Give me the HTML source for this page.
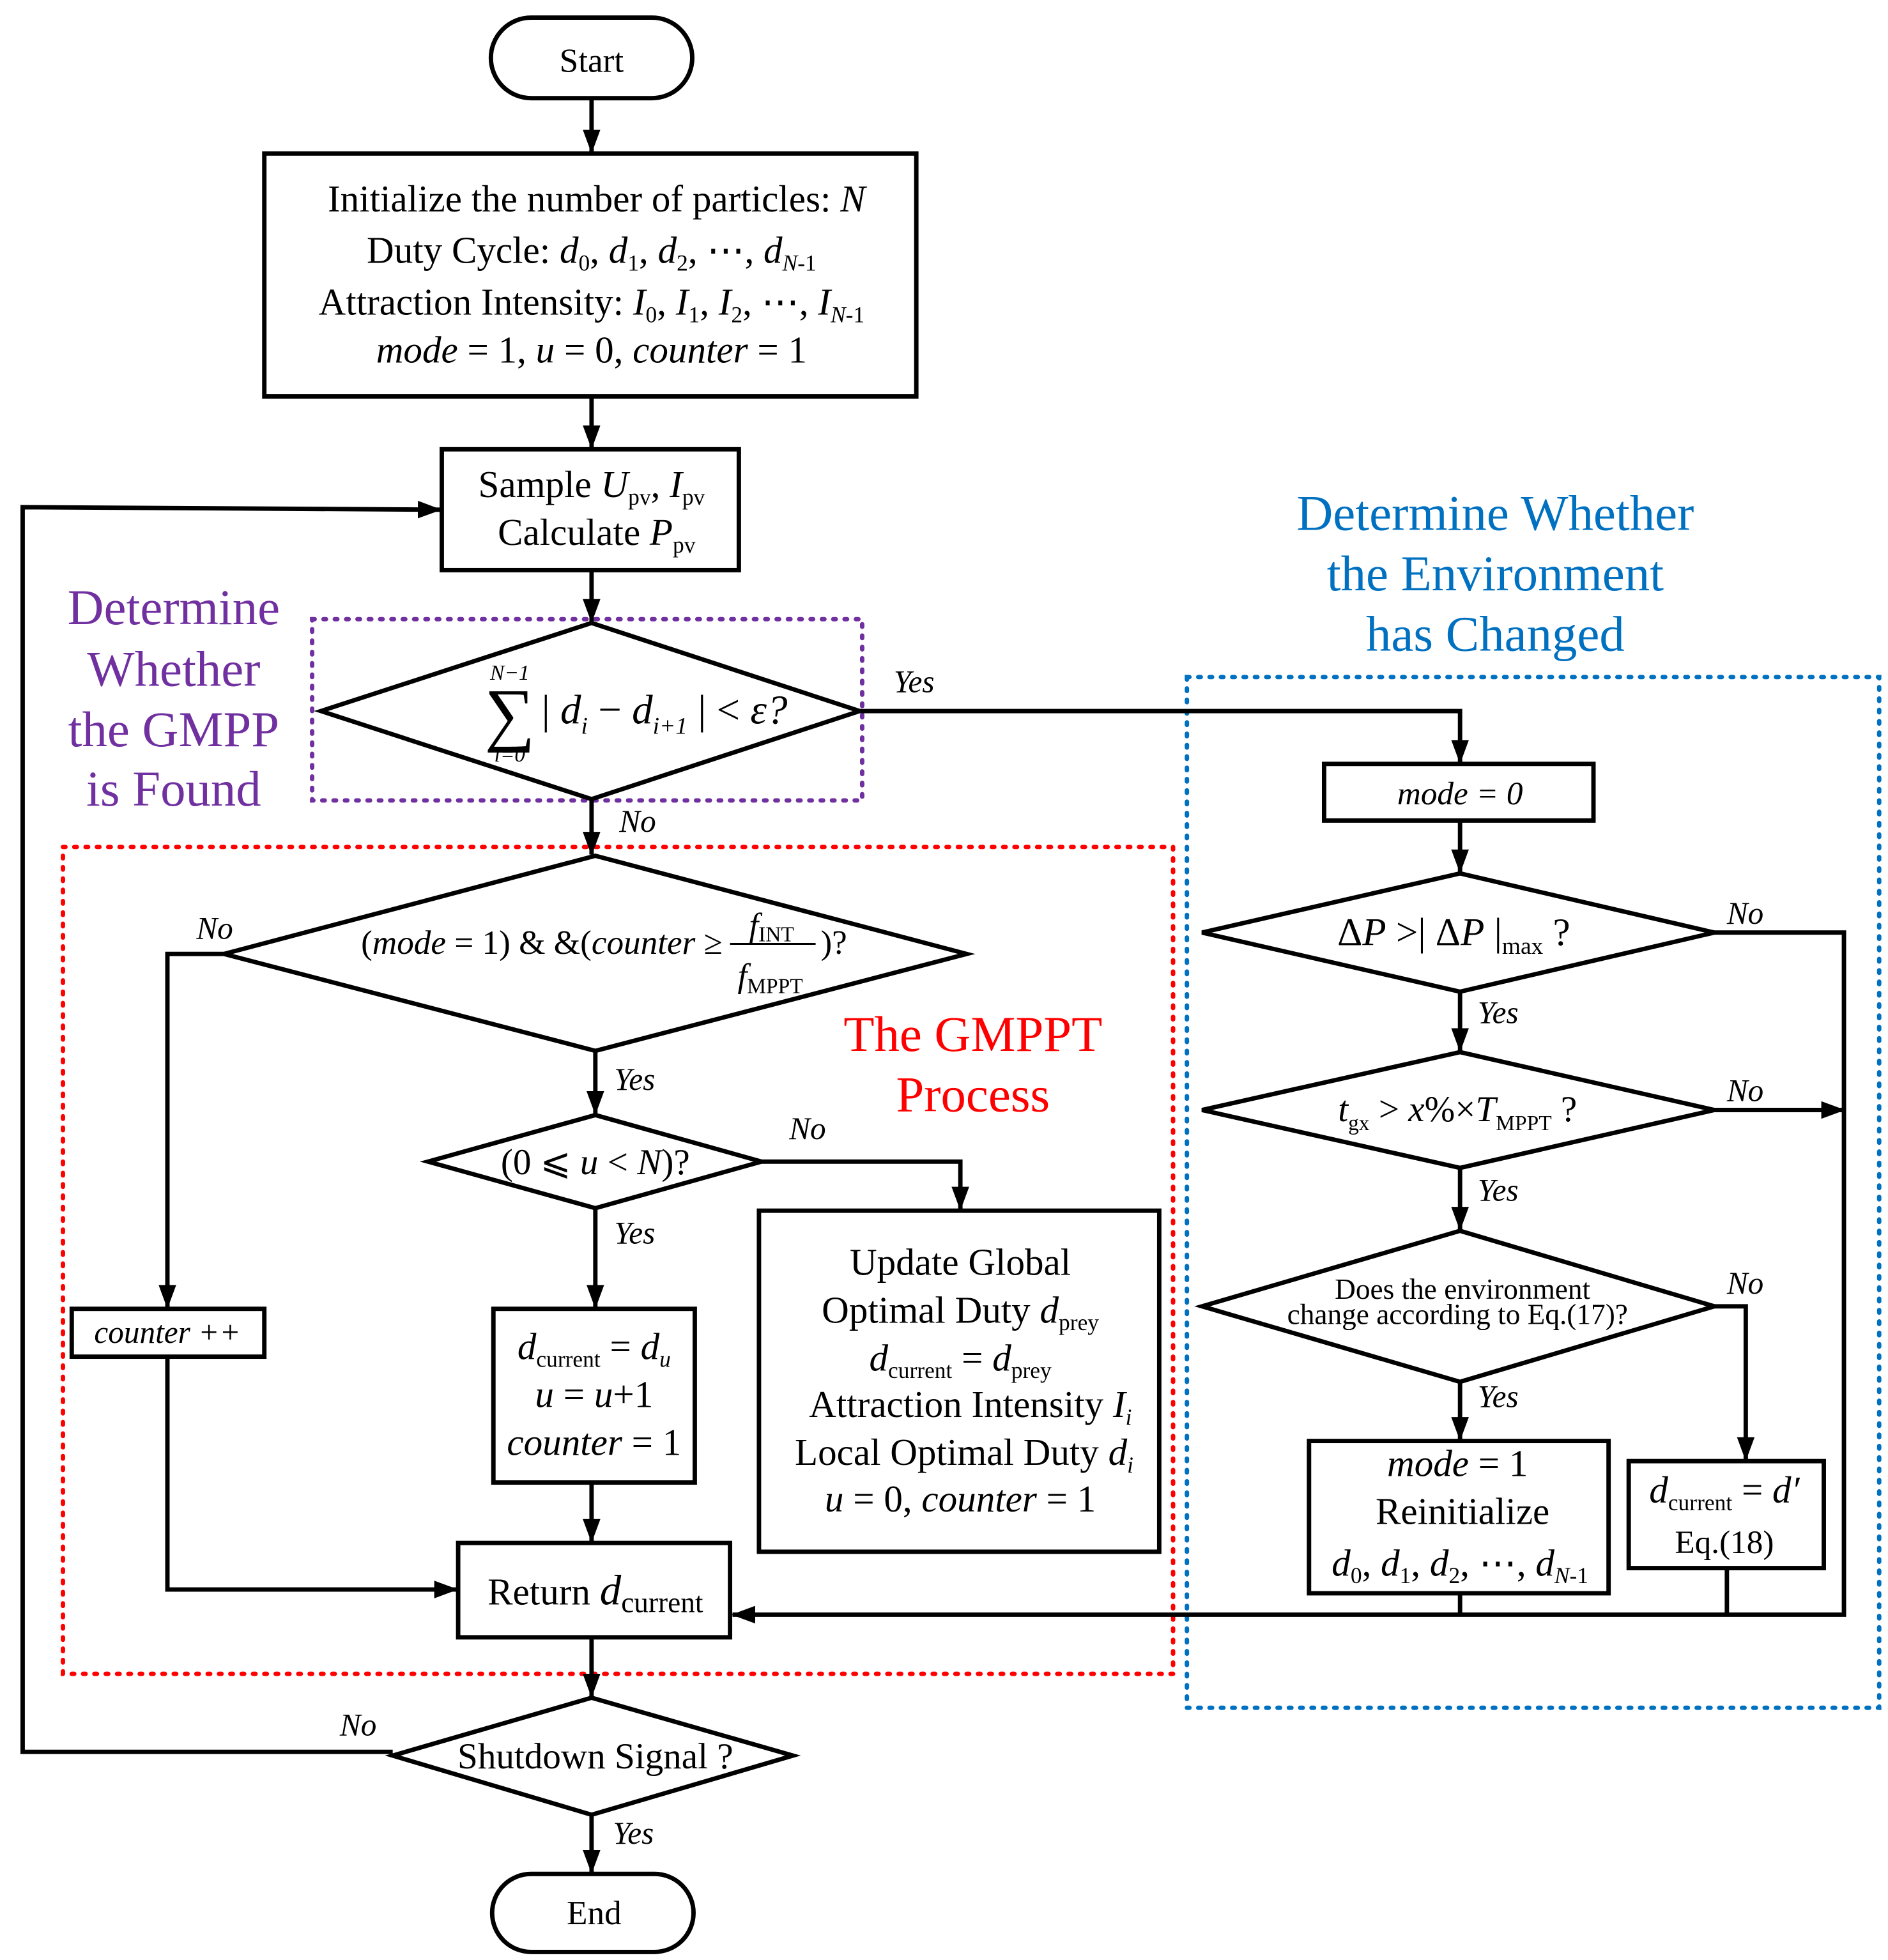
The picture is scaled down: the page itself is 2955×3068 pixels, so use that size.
<!DOCTYPE html>
<html><head><meta charset="utf-8"><style>
html,body{margin:0;padding:0;background:#fff;}
svg{display:block;}
text{font-family:"Liberation Serif",serif;fill:#000;}
.i{font-style:italic;}
</style></head><body>
<svg width="2955" height="3068" viewBox="0 0 1500 1557.4" preserveAspectRatio="none" xmlns="http://www.w3.org/2000/svg">
<defs>
<marker id="b" markerWidth="20" markerHeight="16" refX="18" refY="8" orient="auto" markerUnits="userSpaceOnUse">
<path d="M0,1 L19,8 L0,15 z" fill="#000"/>
</marker>
</defs>
<g fill="none" stroke="#000" stroke-width="3.5">
<rect x="248" y="492" width="437" height="144" stroke="#7030A0" stroke-dasharray="2 7" stroke-linecap="round"/>
<rect x="50" y="673" width="882" height="657" stroke="#FF0000" stroke-dasharray="2 7" stroke-linecap="round"/>
<rect x="943" y="538" width="550" height="819" stroke="#0070C0" stroke-dasharray="2 7" stroke-linecap="round"/>

<rect x="390" y="14" width="160" height="64" rx="32"/>
<rect x="210" y="122" width="518" height="193"/>
<rect x="351" y="357" width="236" height="96"/>
<polygon points="255,565 470,495 683,565 470,635"/>
<rect x="1052" y="607" width="214" height="45"/>
<polygon points="955,741 1160,694 1362,741 1160,788"/>
<polygon points="955,882 1160,836 1362,882 1160,928"/>
<polygon points="955,1038 1160,978 1362,1038 1160,1098"/>
<rect x="1040" y="1145" width="238" height="121"/>
<rect x="1294" y="1161" width="155" height="85"/>
<polygon points="178,758 473,680 768,758 473,835"/>
<rect x="57" y="1040" width="153" height="38"/>
<polygon points="340,923 473,886 605,923 473,960"/>
<rect x="392" y="1040" width="160" height="138"/>
<rect x="603" y="962" width="318" height="271"/>
<rect x="364" y="1226" width="216" height="75"/>
<polygon points="312,1395 470,1349 630,1395 470,1442"/>
<rect x="391" y="1489" width="160" height="62" rx="31"/>

<g marker-end="url(#b)">
<line x1="470" y1="78" x2="470" y2="121"/>
<line x1="470" y1="315" x2="470" y2="356"/>
<polyline points="312,1392 18,1392 18,403 350,405"/>
<line x1="470" y1="453" x2="470" y2="494"/>
<polyline points="683,565 1160,565 1160,606"/>
<line x1="1160" y1="652" x2="1160" y2="693"/>
<polyline points="1362,741 1465,741 1465,1283 582,1283"/>
<line x1="1160" y1="788" x2="1160" y2="835"/>
<line x1="1362" y1="882" x2="1465" y2="882"/>
<line x1="1160" y1="928" x2="1160" y2="977"/>
<polyline points="1362,1038 1387,1038 1387,1160"/>
<line x1="1160" y1="1098" x2="1160" y2="1144"/>
<line x1="470" y1="635" x2="470" y2="679"/>
<polyline points="178,758 133,758 133,1039"/>
<polyline points="133,1078 133,1263 363,1263"/>
<line x1="473" y1="835" x2="473" y2="885"/>
<polyline points="605,923 763,923 763,961"/>
<line x1="473" y1="960" x2="473" y2="1039"/>
<line x1="470" y1="1178" x2="470" y2="1225"/>
<line x1="470" y1="1301" x2="470" y2="1348"/>
<line x1="470" y1="1442" x2="470" y2="1488"/>
</g>
<line x1="1160" y1="1266" x2="1160" y2="1283"/>
<line x1="1372" y1="1246" x2="1372" y2="1283"/>
</g>

<g font-size="30" text-anchor="middle">
<text x="470" y="57" font-size="27">Start</text>
<text x="472" y="1529" font-size="27">End</text>
<text x="474" y="168">Initialize the number of particles: <tspan class="i">N</tspan></text>
<text x="470" y="209">Duty Cycle: <tspan class="i">d</tspan><tspan font-size="18" dy="6">0</tspan><tspan dy="-6">, </tspan><tspan class="i">d</tspan><tspan font-size="18" dy="6">1</tspan><tspan dy="-6">, </tspan><tspan class="i">d</tspan><tspan font-size="18" dy="6">2</tspan><tspan dy="-6">, ⋯, </tspan><tspan class="i">d</tspan><tspan font-size="18" dy="6"><tspan class="i">N</tspan>-1</tspan></text>
<text x="470" y="250">Attraction Intensity: <tspan class="i">I</tspan><tspan font-size="18" dy="6">0</tspan><tspan dy="-6">, </tspan><tspan class="i">I</tspan><tspan font-size="18" dy="6">1</tspan><tspan dy="-6">, </tspan><tspan class="i">I</tspan><tspan font-size="18" dy="6">2</tspan><tspan dy="-6">, ⋯, </tspan><tspan class="i">I</tspan><tspan font-size="18" dy="6"><tspan class="i">N</tspan>-1</tspan></text>
<text x="470" y="288"><tspan class="i">mode</tspan> = 1, <tspan class="i">u</tspan> = 0, <tspan class="i">counter</tspan> = 1</text>
<text x="470" y="395">Sample <tspan class="i">U</tspan><tspan font-size="18" dy="6">pv</tspan><tspan dy="-6">, </tspan><tspan class="i">I</tspan><tspan font-size="18" dy="6">pv</tspan></text>
<text x="474" y="433">Calculate <tspan class="i">P</tspan><tspan font-size="18" dy="6">pv</tspan></text>

<text x="405" y="586" font-size="56">∑</text>
<text x="405" y="540" font-size="17" class="i">N−1</text>
<text x="405" y="605" font-size="17" class="i">i=0</text>
<text x="528" y="575" font-size="33" class="i"><tspan font-style="normal">| </tspan>d<tspan font-size="19" dy="8">i</tspan><tspan dy="-8" font-style="normal"> − </tspan>d<tspan font-size="19" dy="8" >i+1</tspan><tspan dy="-8" font-style="normal"> | &lt; </tspan>ε?</text>

<text x="1160" y="639" font-size="26" class="i">mode = 0</text>
<text x="1155" y="751" font-size="31">Δ<tspan class="i">P</tspan> &gt;| Δ<tspan class="i">P</tspan> |<tspan font-size="19" dy="7">max</tspan><tspan dy="-7">  ?</tspan></text>
<text x="1158" y="891" font-size="29"><tspan class="i">t</tspan><tspan font-size="17" dy="7">gx</tspan><tspan dy="-7"> &gt; </tspan><tspan class="i">x</tspan>%×<tspan class="i">T</tspan><tspan font-size="17" dy="7">MPPT</tspan><tspan dy="-7"> ?</tspan></text>
<text x="1162" y="1032" font-size="23" font-family="Liberation Sans, sans-serif">Does the environment</text>
<text x="1158" y="1052" font-size="23" font-family="Liberation Sans, sans-serif">change according to Eq.(17)?</text>
<text x="1158" y="1173"><tspan class="i">mode</tspan> = 1</text>
<text x="1162" y="1211">Reinitialize</text>
<text x="1160" y="1252"><tspan class="i">d</tspan><tspan font-size="18" dy="6">0</tspan><tspan dy="-6">, </tspan><tspan class="i">d</tspan><tspan font-size="18" dy="6">1</tspan><tspan dy="-6">, </tspan><tspan class="i">d</tspan><tspan font-size="18" dy="6">2</tspan><tspan dy="-6">, ⋯, </tspan><tspan class="i">d</tspan><tspan font-size="18" dy="6"><tspan class="i">N</tspan>-1</tspan></text>
<text x="1370" y="1194"><tspan class="i">d</tspan><tspan font-size="18" dy="6">current</tspan><tspan dy="-6"> = </tspan><tspan class="i">d′</tspan></text>
<text x="1370" y="1234" font-size="26">Eq.(18)</text>

<text x="574" y="758" font-size="27" text-anchor="end">(<tspan class="i">mode</tspan> = 1) &amp; &amp;(<tspan class="i">counter</tspan> ≥</text>
<text x="652" y="758" font-size="27" text-anchor="start">)?</text>
<text x="613" y="744" font-size="27" class="i">f<tspan font-size="17" dy="4" font-style="normal">INT</tspan></text>
<line x1="580" y1="750" x2="648" y2="750" stroke="#000" stroke-width="1.5"/>
<text x="612" y="784" font-size="27" class="i">f<tspan font-size="17" dy="5" font-style="normal">MPPT</tspan></text>

<text x="133" y="1067" font-size="25" class="i">counter ++</text>
<text x="473" y="933" font-size="29">(0 ⩽ <tspan class="i">u</tspan> &lt; <tspan class="i">N</tspan>)?</text>
<text x="472" y="1080"><tspan class="i">d</tspan><tspan font-size="18" dy="6">current</tspan><tspan dy="-6"> = </tspan><tspan class="i">d</tspan><tspan font-size="18" dy="6" class="i">u</tspan></text>
<text x="472" y="1118"><tspan class="i">u</tspan> = <tspan class="i">u</tspan>+1</text>
<text x="472" y="1156"><tspan class="i">counter</tspan> = 1</text>
<text x="763" y="1013">Update Global</text>
<text x="763" y="1051">Optimal Duty <tspan class="i">d</tspan><tspan font-size="18" dy="6">prey</tspan></text>
<text x="763" y="1089"><tspan class="i">d</tspan><tspan font-size="18" dy="6">current</tspan><tspan dy="-6">  = </tspan><tspan class="i">d</tspan><tspan font-size="18" dy="6">prey</tspan></text>
<text x="771" y="1126">Attraction Intensity <tspan class="i">I<tspan font-size="18" dy="6">i</tspan></tspan></text>
<text x="766" y="1164">Local Optimal Duty <tspan class="i">d<tspan font-size="18" dy="6">i</tspan></tspan></text>
<text x="763" y="1201"><tspan class="i">u</tspan> = 0, <tspan class="i">counter</tspan> = 1</text>
<text x="473" y="1275" font-size="30">Return <tspan class="i" font-size="34">d</tspan><tspan font-size="23" dy="6">current</tspan></text>
<text x="473" y="1405" font-size="29">Shutdown Signal ?</text>
</g>

<g font-size="25" class="i">
<text x="710" y="550" class="i">Yes</text>
<text x="492" y="661" class="i">No</text>
<text x="1372" y="734" class="i">No</text>
<text x="1174" y="813" class="i">Yes</text>
<text x="1372" y="875" class="i">No</text>
<text x="1174" y="954" class="i">Yes</text>
<text x="1372" y="1028" class="i">No</text>
<text x="1174" y="1118" class="i">Yes</text>
<text x="156" y="746" class="i">No</text>
<text x="488" y="866" class="i">Yes</text>
<text x="627" y="905" class="i">No</text>
<text x="488" y="988" class="i">Yes</text>
<text x="270" y="1379" class="i">No</text>
<text x="487" y="1465" class="i">Yes</text>
</g>

<g font-size="40" text-anchor="middle">
<text x="138" y="496" style="fill:#7030A0">Determine</text>
<text x="138" y="545" style="fill:#7030A0">Whether</text>
<text x="138" y="593" style="fill:#7030A0">the GMPP</text>
<text x="138" y="640" style="fill:#7030A0">is Found</text>
<text x="1188" y="421" style="fill:#0070C0">Determine Whether</text>
<text x="1188" y="469" style="fill:#0070C0">the Environment</text>
<text x="1188" y="517" style="fill:#0070C0">has Changed</text>
<text x="773" y="835" style="fill:#FF0000">The GMPPT</text>
<text x="773" y="883" style="fill:#FF0000">Process</text>
</g>
</svg>
</body></html>
